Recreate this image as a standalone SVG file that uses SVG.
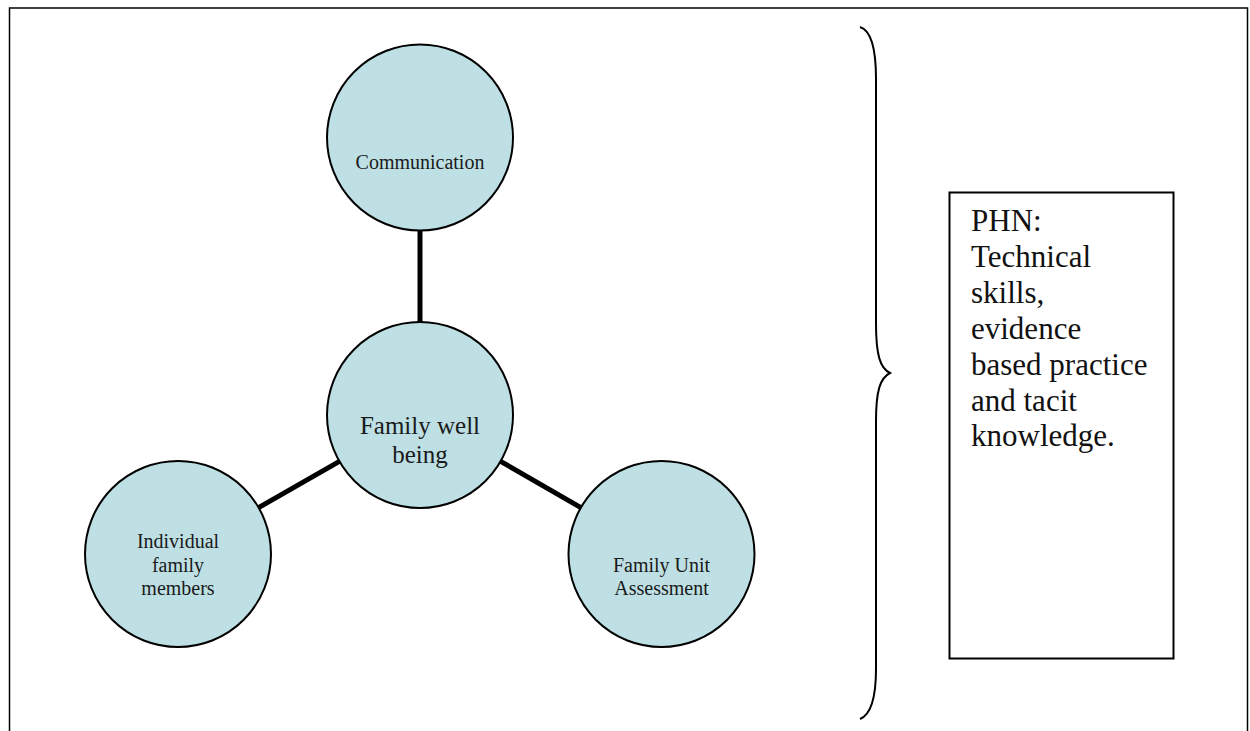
<svg xmlns="http://www.w3.org/2000/svg" width="1250" height="731" viewBox="0 0 1250 731">
<style>
.node{fill:#bee0e4;stroke:#000;stroke-width:2}
.lbl{font-family:"Liberation Serif","Times New Roman",serif;fill:#1a1a1a;text-anchor:middle}
.s{font-size:20px}
.l{font-size:25px}
.conn{stroke:#000;stroke-width:5;fill:none}
</style>
<rect width="1250" height="731" fill="#fff"/>
<path d="M9.5,731 V8 H1247.5 V731" fill="none" stroke="#000" stroke-width="1.5"/>
<g id="connectors">
<line class="conn" x1="420" y1="230" x2="420" y2="322"/>
<line class="conn" x1="339.4" y1="461.3" x2="258.6" y2="507.7"/>
<line class="conn" x1="500.6" y1="461.3" x2="580.9" y2="507.7"/>
</g>
<g id="communication">
<circle class="node" cx="420" cy="137.5" r="93"/>
<text class="lbl s" x="420" y="169">Communication</text>
</g>
<g id="family-well-being">
<circle class="node" cx="420" cy="415" r="93"/>
<text class="lbl l" x="420" y="434">Family well</text>
<text class="lbl l" x="420" y="463">being</text>
</g>
<g id="individual-family-members">
<circle class="node" cx="178" cy="554" r="93"/>
<text class="lbl s" x="178" y="548">Individual</text>
<text class="lbl s" x="178" y="572">family</text>
<text class="lbl s" x="178" y="595">members</text>
</g>
<g id="family-unit-assessment">
<circle class="node" cx="661.5" cy="554" r="93"/>
<text class="lbl s" x="661.5" y="572">Family Unit</text>
<text class="lbl s" x="661.5" y="595">Assessment</text>
</g>
<g id="brace">
<path d="M860,27 C870,30 876,45 876,79 V323 C876,355 880,368 890,373 C880,378 876,391 876,421 V669 C876,700 870,715 860,719" fill="none" stroke="#000" stroke-width="2"/>
</g>
<g id="phn-box">
<rect x="949.5" y="192.5" width="224" height="466" fill="#fff" stroke="#000" stroke-width="2"/>
<g font-family="'Liberation Serif','Times New Roman',serif" font-size="31" fill="#111">
<text x="971" y="231">PHN:</text>
<text x="971" y="267">Technical</text>
<text x="971" y="303">skills,</text>
<text x="971" y="339">evidence</text>
<text x="971" y="375">based practice</text>
<text x="971" y="411">and tacit</text>
<text x="971" y="446">knowledge.</text>
</g>
</g>
</svg>
